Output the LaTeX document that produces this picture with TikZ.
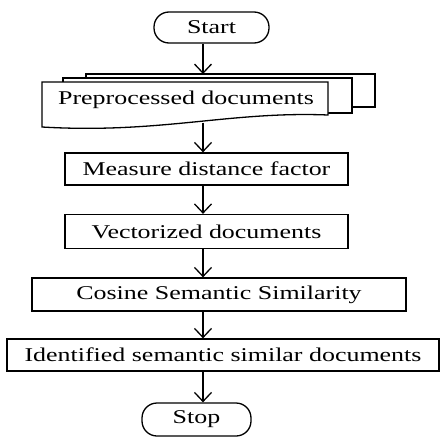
\documentclass[tikz,border=0pt]{standalone}
\usepackage{fontspec}
\setmainfont{Liberation Serif}
\usepackage{graphicx}
\usetikzlibrary{arrows.meta}
\newcommand\wt[1]{\scalebox{1.33}[1]{#1}}
\begin{document}
\begin{tikzpicture}[x=1pt,y=-1pt,
  lw/.style={line width=1.3pt},
  box/.style={lw,draw,rectangle,inner sep=0pt,font=\fontsize{19.5}{22}\selectfont},
  term/.style={box,rounded corners=15pt},
  arr/.style={lw,-{Straight Barb[length=9pt,width=17pt,line width=1.3pt]}}]
\useasboundingbox (0,0) rectangle (441,439);
\coordinate (ax) at (203,0);
% terminals and boxes
\node[term,minimum width=115pt,minimum height=31pt] (start) at (211.5,27.5) {\raisebox{-3pt}{\wt{Start}}};
\node[box,minimum width=283pt,minimum height=32pt] (measure) at (206.5,169) {\wt{Measure distance factor}};
\node[box,minimum width=283pt,minimum height=34pt] (vector) at (206.5,231.5) {\wt{Vectorized documents}};
\node[box,minimum width=374pt,minimum height=33pt] (cosine) at (219,294.5) {\wt{Cosine Semantic Similarity}};
\node[box,minimum width=432pt,minimum height=32pt] (ident) at (223,355) {\wt{Identified semantic similar documents}};
\node[term,minimum width=109pt,minimum height=33pt] (stop) at (196.5,419.5) {\wt{Stop}};
% multi-document
\draw[lw,fill=white] (86,74) rectangle (375,107);
\draw[lw,fill=white] (63,78) rectangle (352,113);
\draw[lw,fill=white] (42,82) -- (328,82) -- (328,115)
  .. controls (230,111) and (160,134) .. (42,127) -- cycle;
\node[font=\fontsize{19.5}{22}\selectfont,inner sep=0pt] (docs) at (186,100) {\wt{Preprocessed documents}};
\coordinate (docTop) at (203,74);
\coordinate (docBot) at (203,122.5);
% connectors
\draw[arr] (start.south -| ax) -- (docTop);
\draw[arr] (docBot) -- (measure.north -| ax);
\draw[arr] (measure.south -| ax) -- (vector.north -| ax);
\draw[arr] (vector.south -| ax) -- (cosine.north -| ax);
\draw[arr] (cosine.south -| ax) -- (ident.north -| ax);
\draw[arr] (ident.south -| ax) -- (stop.north -| ax);
\end{tikzpicture}
\end{document}
